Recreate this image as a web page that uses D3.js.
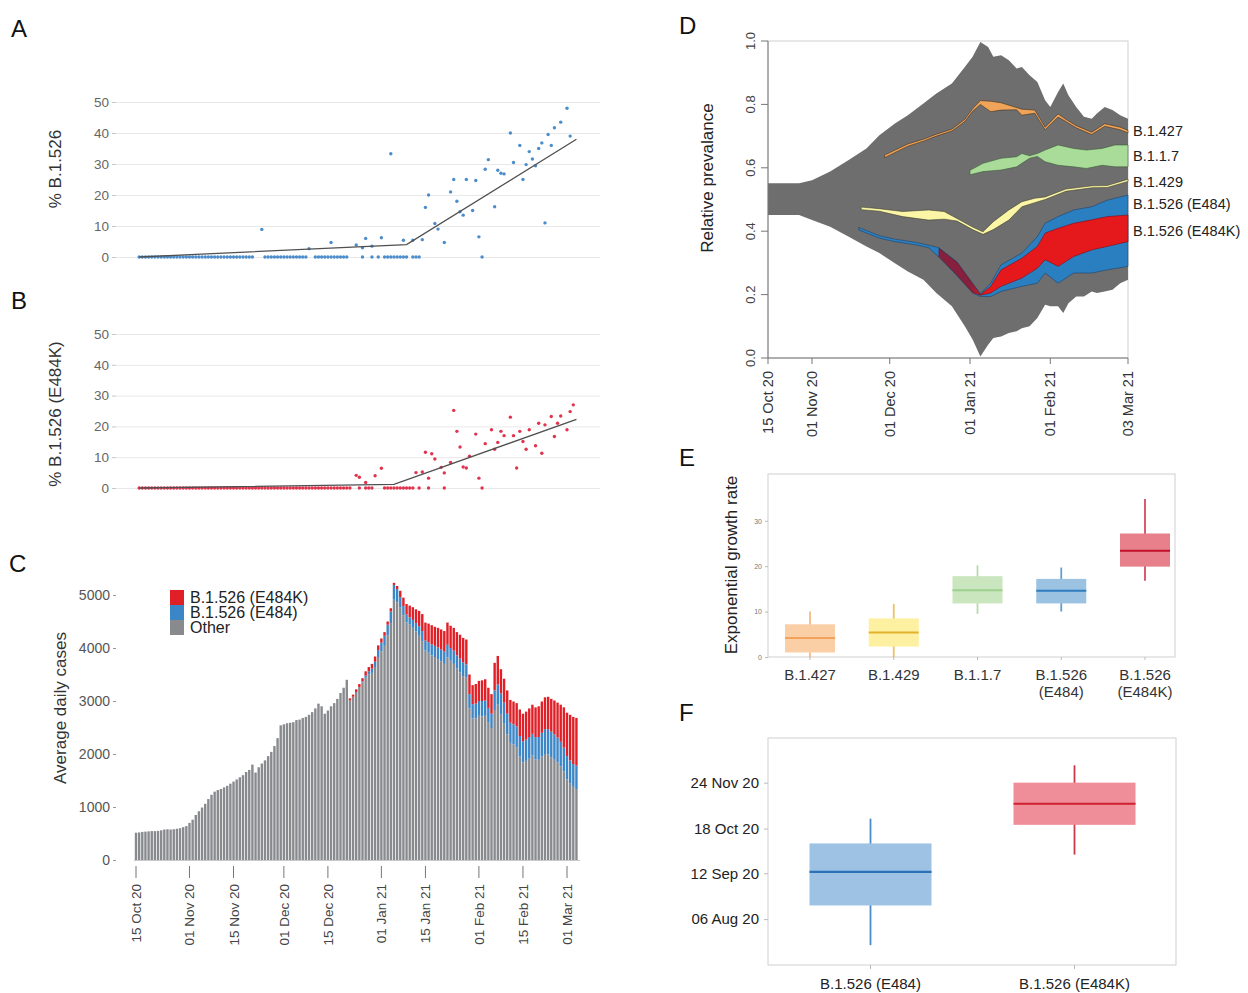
<!DOCTYPE html>
<html>
<head>
<meta charset="utf-8">
<script src="https://cdn.jsdelivr.net/npm/d3@7"></script>
<style>
  body { margin: 0; background: #fff; }
  text { font-family: "Liberation Sans", Arial, sans-serif; }
</style>
</head>
<body>
<div id="chart"></div>
<script>
// days are counted from 15 Oct 2020
const t0 = new Date(2020, 9, 15)
const dayToDate = n => d3.timeDay.offset(t0, n)
const parse = d3.timeParse('%Y-%m-%d')

// ---- A: % B.1.526 ----
const aZeroDays = [1,2,3,4,5,6,7,8,9,10,11,12,13,14,15,16,17,18,19,20,21,22,23,24,25,26,27,28,29,30,31,32,33,34,35,36,37,
  41,42,43,44,45,46,47,48,49,50,51,52,53,54,57,58,59,60,61,62,63,64,65,66,67,72,75,77,79,80,81,82,83,84,85,86,88,89,90,110]
const aDays = [40,55,62,70,72,73,75,78,81,85,88,91,92,93,95,96,98,100,101,102,103,104,105,107,108,109,111,112,114,115,116,117,119,120,122,123,124,125,126,127,128,129,130,131,132,133,135,137,138]
const aPct = [8.9,2.7,4.7,3.9,3.0,6.0,3.5,6.2,33.3,5.4,5.4,5.6,16,20,10.8,9.0,4.7,21,25,18,14.6,13.5,25,15,24.7,6.5,28.3,31.4,16.2,28,27,26.8,40,30.5,36,25,29.8,34,31.6,29.4,35,36.8,11,39.5,36,41.7,43.5,48,39]
const aFitDays = [1, 86, 140]
const aFit = [0, 4, 38]

// ---- B: % B.1.526 (E484K) ----
const bZeroDays = [1,2,3,4,5,6,7,8,9,10,11,12,13,14,15,16,17,18,19,20,21,22,23,24,25,26,27,28,29,30,31,32,33,34,35,36,37,38,39,40,
  41,42,43,44,45,46,47,48,49,50,51,52,53,54,55,56,57,58,59,60,61,62,63,64,65,66,67,68,71,73,74,75,79,80,81,82,83,84,85,86,87,88,90,93,98,110]
const bDays = [70,71,73,76,78,89,91,92,93,94,95,97,98,100,101,102,103,104,105,106,108,109,111,113,114,115,116,117,119,120,121,122,123,124,125,127,128,129,130,132,133,134,135,137,138,139]
const bPct = [4.1,3.5,1.8,4.0,6.4,5.0,5.2,11.6,3.2,11.1,9.4,6.7,4.9,8.3,25.2,18.4,13.3,6.8,6.5,10.3,17.5,3.2,14.4,18.9,12.6,14.8,18.4,17,23,17,6.5,18.4,15.1,12.6,18.9,13.7,21,11.3,20.5,23.2,16.7,21,23.4,18.9,24.8,27]
const bFitDays = [1, 82, 140]
const bFit = [0, 1.2, 22.3]
const pctTicks = [0, 10, 20, 30, 40, 50]

// ---- C: average daily cases, one value per day from 15 Oct 20 ----
const cOther = [
  515,520,530,535,540,545,545,550,560,575,
  580,575,580,590,600,620,640,700,760,850,
  920,990,1060,1150,1230,1290,1320,1340,1370,1400,
  1440,1480,1520,1560,1600,1660,1700,1800,1650,1750,
  1820,1880,1960,2040,2150,2300,2540,2560,2580,2590,
  2600,2640,2650,2680,2700,2740,2790,2860,2950,2900,
  2760,2820,2900,2960,3040,3150,3250,3400,3010,3080,
  3170,3260,3350,3440,3500,3530,3640,3830,3940,4040,
  4240,4470,4910,4860,4760,4620,4480,4440,4380,4310,
  4230,4130,3950,3910,3860,3830,3790,3750,3700,3820,
  3760,3700,3610,3540,3470,3440,2860,2670,2670,2720,
  2710,2720,2590,2490,2830,2930,2740,2570,2370,2210,
  2180,2130,1950,1840,1870,1910,1970,1900,1890,1950,
  2000,1990,1940,1890,1840,1770,1670,1520,1450,1380,
  1340]
const cE484 = [
  0,0,0,0,0,0,0,0,0,0, 0,0,0,0,0,0,0,0,0,0, 0,0,0,0,0,0,0,0,0,0,
  0,0,0,0,0,0,0,0,0,0, 0,0,0,0,0,0,0,0,0,0, 0,0,0,0,0,0,0,0,0,0,
  0,0,0,0,0,0,0,0,
  0,0,0,0,20,40,60,80,100,130,
  160,190,200,220,280,250,200,170,150,140,
  150,160,180,190,190,200,210,210,220,220,
  230,240,240,250,250,260,260,250,270,270,
  280,280,290,290,280,270,370,380,400,400,
  390,380,380,390,390,400,400,410,410,420,
  430,450,470,480,480,480,470,460,450,440,
  430,430,440]
const cE484K = [
  0,0,0,0,0,0,0,0,0,0, 0,0,0,0,0,0,0,0,0,0, 0,0,0,0,0,0,0,0,0,0,
  0,0,0,0,0,0,0,0,0,0, 0,0,0,0,0,0,0,0,0,0, 0,0,0,0,0,0,0,0,0,0,
  0,0,0,0,0,0,0,0,
  40,40,50,60,60,80,80,90,100,90,
  80,70,60,60,40,60,120,160,200,220,
  240,260,290,320,340,350,360,360,370,380,
  390,420,420,430,440,450,460,470,370,360,
  370,380,390,400,380,370,520,540,460,450,
  440,430,430,440,500,520,530,540,550,560,
  580,590,600,610,620,640,660,700,760,820,
  860,890,900]
const cYTicks = [0, 1000, 2000, 3000, 4000, 5000]
const cXTicks = ['2020-10-15','2020-11-01','2020-11-15','2020-12-01','2020-12-15','2021-01-01','2021-01-15','2021-02-01','2021-02-15','2021-03-01']
const cKeys = ['other', 'e484', 'e484k']
const cLegend = ['B.1.526 (E484K)', 'B.1.526 (E484)', 'Other']

// ---- D: relative prevalence ----
const dDays = [0,12,17,24,31,38,43,49,54,60,65,71,76,79,82,85,87,90,93,96,98,101,104,107,109,112,114,116,119,122,125,127,130,133,136,139]
const dUpper = [0.551,0.551,0.561,0.588,0.624,0.661,0.703,0.740,0.766,0.803,0.834,0.866,0.918,0.950,0.997,0.981,0.950,0.955,0.939,0.913,0.918,0.892,0.871,0.813,0.792,0.839,0.866,0.829,0.792,0.761,0.755,0.771,0.792,0.782,0.766,0.755]
const dLower = [0.451,0.451,0.435,0.414,0.383,0.352,0.331,0.299,0.273,0.247,0.205,0.163,0.100,0.058,0.005,0.042,0.063,0.068,0.079,0.084,0.094,0.100,0.126,0.168,0.163,0.163,0.142,0.173,0.194,0.194,0.210,0.205,0.210,0.215,0.236,0.247]
const orDays = [45,54,60,65,71,76,79,82,86,90,96,98,103,107,109,112,115,119,125,130,136,139]
const orTop = [0.640,0.675,0.690,0.706,0.722,0.753,0.786,0.812,0.810,0.805,0.790,0.785,0.782,0.728,0.744,0.770,0.753,0.733,0.712,0.739,0.728,0.718]
const orBot = [0.632,0.668,0.684,0.700,0.716,0.746,0.778,0.800,0.777,0.782,0.783,0.766,0.772,0.720,0.736,0.760,0.746,0.726,0.705,0.731,0.720,0.710]
const grDays = [78,83,90,96,98,101,104,107,112,118,123,129,134,139]
const grTop = [0.592,0.614,0.630,0.635,0.645,0.638,0.645,0.656,0.672,0.661,0.656,0.661,0.672,0.672]
const grBot = [0.578,0.588,0.593,0.603,0.614,0.630,0.636,0.619,0.608,0.603,0.598,0.608,0.603,0.603]
const yeDays = [36,43,52,62,68,73,79,83,87,93,98,103,107,115,125,131,139]
const yeTop = [0.476,0.471,0.462,0.467,0.462,0.440,0.413,0.398,0.430,0.467,0.493,0.504,0.508,0.533,0.543,0.544,0.564]
const yeBot = [0.468,0.463,0.446,0.435,0.438,0.432,0.405,0.390,0.405,0.435,0.477,0.490,0.500,0.526,0.537,0.538,0.557]
const blDays = [35,43,49,57,62,66,73,79,82,86,90,98,104,107,112,118,125,131,139]
const blTop = [0.412,0.386,0.375,0.365,0.356,0.348,0.303,0.236,0.203,0.236,0.294,0.331,0.383,0.425,0.446,0.467,0.477,0.498,0.514]
const blBot = [0.404,0.378,0.367,0.357,0.348,0.318,0.259,0.205,0.194,0.194,0.210,0.226,0.236,0.268,0.236,0.268,0.268,0.278,0.289]
const rdDays = [66,73,79,82,86,90,98,104,107,112,118,125,131,139]
const rdTop = [0.346,0.301,0.234,0.200,0.226,0.278,0.315,0.352,0.394,0.409,0.425,0.436,0.446,0.451]
const rdBot = [0.320,0.261,0.207,0.198,0.205,0.226,0.252,0.283,0.310,0.289,0.320,0.341,0.352,0.367]
const dNames = ['B.1.427', 'B.1.1.7', 'B.1.429', 'B.1.526 (E484)', 'B.1.526 (E484K)']
const dLabelAt = [0.716, 0.636, 0.555, 0.485, 0.400]
const dXTicks = ['2020-10-15','2020-11-01','2020-12-01','2021-01-01','2021-02-01','2021-03-03']
const dYTicks = [0, 0.2, 0.4, 0.6, 0.8, 1.0]

// ---- E: exponential growth rate ----
const eCats = ['B.1.427', 'B.1.429', 'B.1.1.7', 'B.1.526 (E484)', 'B.1.526 (E484K)']
const eLow = [0, 0, 9.5, 10.0, 16.8]
const eQ1 = [1.0, 2.3, 11.8, 11.8, 19.9]
const eMed = [4.2, 5.4, 14.7, 14.6, 23.4]
const eQ3 = [7.2, 8.5, 17.8, 17.2, 27.2]
const eHigh = [10.0, 11.7, 20.2, 19.7, 34.8]
const eTicks = [0, 10, 20, 30]

// ---- F: estimated emergence date ----
const fCats = ['B.1.526 (E484)', 'B.1.526 (E484K)']
const fLow = ['2020-07-16', '2020-09-27']
const fQ1 = ['2020-08-17', '2020-10-21']
const fMed = ['2020-09-13', '2020-11-07']
const fQ3 = ['2020-10-06', '2020-11-24']
const fHigh = ['2020-10-26', '2020-12-08']
const fTicks = ['2020-08-06', '2020-09-12', '2020-10-18', '2020-11-24']

const svg = d3.select('#chart').append('svg').attr('width', 1248).attr('height', 993)
svg.append('rect').attr('width', 1248).attr('height', 993).attr('fill', '#fff')

const styleText = (sel, size, fill) => sel.style('font-size', size + 'px').attr('fill', fill)
const dateFmt = d3.timeFormat('%d %b %y')

// panel letters
;[['A', 11, 37], ['B', 11, 309], ['C', 9, 572], ['D', 679, 34], ['E', 679, 466], ['F', 679, 721]].forEach(([t, x, y]) => {
  styleText(svg.append('text').attr('x', x).attr('y', y).text(t), 24, '#111')
})

// shared time axis of A, B, C
const xAB = d3.scaleTime().domain([t0, new Date(2021, 2, 1)]).range([136, 567])

function scatterPanel(y, zeroDays, days, vals, fitDays, fitVals, color, label, labelY) {
  const g = svg.append('g')
  g.append('g').attr('transform', 'translate(116,0)')
    .call(d3.axisLeft(y).tickValues(pctTicks).tickSize(-484).tickFormat(''))
    .call(a => a.select('.domain').remove())
    .call(a => a.selectAll('line').attr('stroke', '#e8e8e8'))
  g.append('g').attr('transform', 'translate(116,0)')
    .call(d3.axisLeft(y).tickValues(pctTicks).tickSize(4).tickPadding(3))
    .call(a => a.select('.domain').remove())
    .call(a => a.selectAll('line').attr('stroke', '#c8c8c8'))
    .call(a => styleText(a.selectAll('text'), 13.5, '#666'))
  styleText(g.append('text').attr('transform', `translate(61,${labelY}) rotate(-90)`).attr('text-anchor', 'middle').text(label), 17, '#333')

  g.append('g').selectAll('circle').data(zeroDays).join('circle')
    .attr('cx', d => xAB(dayToDate(d))).attr('cy', y(0)).attr('r', 1.7).attr('fill', color)
  g.append('g').selectAll('circle').data(days).join('circle')
    .attr('cx', d => xAB(dayToDate(d))).attr('cy', (d, i) => y(vals[i])).attr('r', 1.7).attr('fill', color)

  const line = d3.line().x(d => xAB(dayToDate(d))).y((d, i) => y(fitVals[i]))
  g.append('path').attr('d', line(fitDays)).attr('fill', 'none').attr('stroke', '#505050').attr('stroke-width', 1.3)
}

scatterPanel(d3.scaleLinear([0, 50], [257, 102]), aZeroDays, aDays, aPct, aFitDays, aFit, '#4b8dcb', '% B.1.526', 169)
scatterPanel(d3.scaleLinear([0, 50], [488, 334]), bZeroDays, bDays, bPct, bFitDays, bFit, '#e0344e', '% B.1.526 (E484K)', 414)

// ---- C ----
const yC = d3.scaleLinear([0, 5000], [860, 595])
const cColors = { other: '#888a8e', e484: '#3b86c6', e484k: '#e01f26' }
const cData = cOther.map((o, i) => ({ date: dayToDate(i), other: o, e484: cE484[i], e484k: cE484K[i] }))
const cStack = d3.stack().keys(cKeys)(cData)
const bw = 2.4
const cG = svg.append('g')
cG.selectAll('g').data(cStack).join('g').attr('fill', d => cColors[d.key])
  .selectAll('rect').data(d => d).join('rect')
  .attr('x', d => xAB(d.data.date) - bw / 2)
  .attr('y', d => yC(d[1]))
  .attr('width', bw)
  .attr('height', d => yC(d[0]) - yC(d[1]))
cG.append('line').attr('x1', 134).attr('x2', 580).attr('y1', 860.5).attr('y2', 860.5).attr('stroke', '#c8c8c8')
cG.append('g').attr('transform', 'translate(116,0)')
  .call(d3.axisLeft(yC).tickValues(cYTicks).tickSize(3).tickPadding(3).tickFormat(d3.format('d')))
  .call(a => a.select('.domain').remove())
  .call(a => a.selectAll('line').attr('stroke', '#999'))
  .call(a => styleText(a.selectAll('text'), 14, '#555'))
const cx = cG.append('g').selectAll('g').data(cXTicks.map(parse)).join('g')
  .attr('transform', d => `translate(${xAB(d)},0)`)
cx.append('line').attr('y1', 866).attr('y2', 878).attr('stroke', '#777')
styleText(cx.append('text').attr('transform', 'translate(5,884) rotate(-90)').attr('text-anchor', 'end')
  .text(dateFmt), 13.5, '#444')
styleText(cG.append('text').attr('transform', 'translate(66,708) rotate(-90)').attr('text-anchor', 'middle')
  .text('Average daily cases'), 17, '#333')
const leg = cG.append('g').selectAll('g').data(cLegend).join('g')
  .attr('transform', (d, i) => `translate(170,${590 + i * 15})`)
leg.append('rect').attr('width', 14).attr('height', 15).attr('fill', (d, i) => cColors[cKeys[2 - i]])
styleText(leg.append('text').attr('x', 20).attr('y', 13).text(d => d), 16, '#222')

// ---- D ----
const xD = d3.scaleTime().domain([t0, new Date(2021, 2, 3)]).range([768, 1128])
const yD = d3.scaleLinear([0, 1], [358, 41])
const dG = svg.append('g')
const defs = svg.append('defs')
const grad = defs.append('linearGradient').attr('id', 'redFade').attr('gradientUnits', 'userSpaceOnUse')
  .attr('x1', xD(dayToDate(78))).attr('x2', xD(dayToDate(84))).attr('y1', 0).attr('y2', 0)
grad.append('stop').attr('offset', 0).attr('stop-color', '#86203c')
grad.append('stop').attr('offset', 1).attr('stop-color', '#e5191c')

const band = (days, top, bot) => days.map((d, i) => ({ date: dayToDate(d), top: top[i], bot: bot[i] }))
const dArea = d3.area().x(d => xD(d.date)).y0(d => yD(d.bot)).y1(d => yD(d.top))

dG.append('rect').attr('x', 768).attr('y', 41).attr('width', 360).attr('height', 317)
  .attr('fill', '#fff').attr('stroke', '#d0d0d0')
dG.append('path').attr('d', dArea(band(dDays, dUpper, dLower))).attr('fill', '#6e6e6e')

const dBands = [
  { data: band(blDays, blTop, blBot), fill: '#2a7fc1', stroke: '#1d3f66' },
  { data: band(rdDays, rdTop, rdBot), fill: 'url(#redFade)', stroke: '#6a1020' },
  { data: band(yeDays, yeTop, yeBot), fill: '#fbf6a6', stroke: '#3a3a2a' },
  { data: band(grDays, grTop, grBot), fill: '#a8dc98', stroke: '#3a5a34' },
  { data: band(orDays, orTop, orBot), fill: '#f0a45a', stroke: '#3a2a1a' }
]
dG.selectAll('path.band').data(dBands).join('path').attr('class', 'band')
  .attr('d', d => dArea(d.data)).attr('fill', d => d.fill)
  .attr('stroke', d => d.stroke).attr('stroke-width', 0.7).attr('stroke-opacity', 0.8)

dG.append('line').attr('x1', 768).attr('x2', 768).attr('y1', 41).attr('y2', 358).attr('stroke', '#777')
dG.append('line').attr('x1', 768).attr('x2', 1128).attr('y1', 358).attr('y2', 358).attr('stroke', '#777')
const dyT = dG.append('g').selectAll('g').data(dYTicks).join('g').attr('transform', d => `translate(0,${yD(d)})`)
dyT.append('line').attr('x1', 761).attr('x2', 768).attr('stroke', '#777')
styleText(dyT.append('text').attr('transform', 'translate(755,0) rotate(-90)').attr('text-anchor', 'middle')
  .text(d3.format('.1f')), 13, '#444')
const dxT = dG.append('g').selectAll('g').data(dXTicks.map(parse)).join('g').attr('transform', d => `translate(${xD(d)},0)`)
dxT.append('line').attr('y1', 358).attr('y2', 364).attr('stroke', '#777')
styleText(dxT.append('text').attr('transform', 'translate(5,371) rotate(-90)').attr('text-anchor', 'end')
  .text(dateFmt), 14.5, '#333')
styleText(dG.append('text').attr('transform', 'translate(713,178) rotate(-90)').attr('text-anchor', 'middle')
  .text('Relative prevalance'), 17, '#222')
styleText(dG.append('g').selectAll('text').data(dNames).join('text')
  .attr('x', 1133).attr('y', (d, i) => yD(dLabelAt[i])).attr('dy', '0.35em').text(d => d), 14.5, '#222')

// ---- E ----
const xE = d3.scalePoint().domain(eCats).range([810, 1145])
const yE = d3.scaleLinear([0, 40.3], [657, 474])
const eFill = ['#fbcfa6', '#fdf0a0', '#c9e6be', '#9cc2e2', '#e7808b']
const eLine = ['#f3a25c', '#e2b22c', '#9dcf8d', '#2f7dbf', '#c3102b']
const eG = svg.append('g')
eG.append('rect').attr('x', 768).attr('y', 474).attr('width', 407).attr('height', 183)
  .attr('fill', 'none').attr('stroke', '#cfcfcf')
eG.append('g').attr('transform', 'translate(768,0)')
  .call(d3.axisLeft(yE).tickValues(eTicks).tickSize(3).tickPadding(3))
  .call(a => a.select('.domain').remove())
  .call(a => a.selectAll('line').attr('stroke', '#bbb'))
  .call(a => styleText(a.selectAll('text'), 7, '#777'))
const eBox = eG.append('g').selectAll('g').data(eCats).join('g').attr('transform', d => `translate(${xE(d)},0)`)
eBox.append('line').attr('y1', (d, i) => yE(eLow[i])).attr('y2', (d, i) => yE(eHigh[i]))
  .attr('stroke', (d, i) => eLine[i]).attr('stroke-width', 1.8).attr('stroke-opacity', 0.75)
eBox.append('rect').attr('x', -25).attr('width', 50)
  .attr('y', (d, i) => yE(eQ3[i])).attr('height', (d, i) => yE(eQ1[i]) - yE(eQ3[i]))
  .attr('fill', (d, i) => eFill[i])
eBox.append('line').attr('x1', -25).attr('x2', 25).attr('y1', (d, i) => yE(eMed[i])).attr('y2', (d, i) => yE(eMed[i]))
  .attr('stroke', (d, i) => eLine[i]).attr('stroke-width', 2)
eBox.append('line').attr('y1', 657).attr('y2', 660).attr('stroke', '#bbb')
eBox.each(function (d) {
  const parts = d.split(' ')
  styleText(d3.select(this).append('text').attr('text-anchor', 'middle').selectAll('tspan').data(parts).join('tspan')
    .attr('x', 0).attr('y', (p, j) => 680 + j * 17).text(p => p), 15, '#333')
})
styleText(eG.append('text').attr('transform', 'translate(737,565) rotate(-90)').attr('text-anchor', 'middle')
  .text('Exponential growth rate'), 17, '#222')

// ---- F ----
const xF = d3.scalePoint().domain(fCats).range([870.5, 1074.5])
const yF = d3.scaleTime().domain([new Date(2020, 5, 30), new Date(2020, 11, 30)]).range([965, 738])
const fFill = ['#9dc2e3', '#ef8e98']
const fLine = ['#2a72b5', '#cf1f30']
const fWhisk = ['#4a8cc8', '#c83a48']
const fG = svg.append('g')
fG.append('rect').attr('x', 768).attr('y', 738).attr('width', 408).attr('height', 227)
  .attr('fill', 'none').attr('stroke', '#cfcfcf')
fG.append('g').attr('transform', 'translate(768,0)')
  .call(d3.axisLeft(yF).tickValues(fTicks.map(parse)).tickSize(4).tickPadding(5).tickFormat(dateFmt))
  .call(a => a.select('.domain').remove())
  .call(a => a.selectAll('line').attr('stroke', '#bbb'))
  .call(a => styleText(a.selectAll('text'), 15, '#222'))
const fBox = fG.append('g').selectAll('g').data(fCats).join('g').attr('transform', d => `translate(${xF(d)},0)`)
fBox.append('line').attr('y1', (d, i) => yF(parse(fLow[i]))).attr('y2', (d, i) => yF(parse(fHigh[i])))
  .attr('stroke', (d, i) => fWhisk[i]).attr('stroke-width', 1.8)
fBox.append('rect').attr('x', -61).attr('width', 122)
  .attr('y', (d, i) => yF(parse(fQ3[i]))).attr('height', (d, i) => yF(parse(fQ1[i])) - yF(parse(fQ3[i])))
  .attr('fill', (d, i) => fFill[i])
fBox.append('line').attr('x1', -61).attr('x2', 61)
  .attr('y1', (d, i) => yF(parse(fMed[i]))).attr('y2', (d, i) => yF(parse(fMed[i])))
  .attr('stroke', (d, i) => fLine[i]).attr('stroke-width', 2.2)
fBox.append('line').attr('y1', 965).attr('y2', 969).attr('stroke', '#bbb')
styleText(fBox.append('text').attr('y', 989).attr('text-anchor', 'middle').text(d => d), 15, '#222')
</script>
</body>
</html>
